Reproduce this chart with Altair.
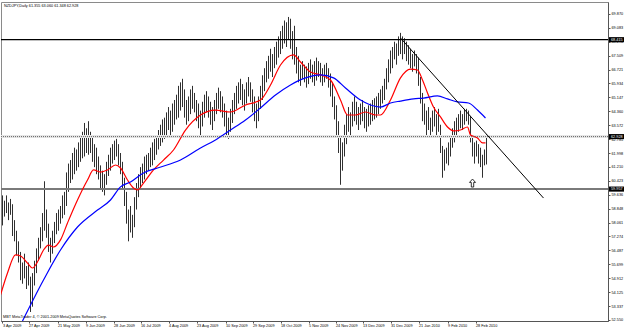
import altair as alt
import pandas as pd

# ---- candle ranges (one per daily bar) ----
hi = [59.6,59.3,59.6,59.2,59.4,59.1,58.2,57.6,57.0,56.4,
      55.8,56.3,55.6,55.8,55.0,55.2,55.9,56.6,57.2,57.8,
      58.6,60.4,58.8,58.0,57.2,57.6,58.1,58.6,58.8,59.0,
      59.6,59.8,60.9,61.4,61.6,62.0,62.3,62.2,62.6,62.9,
      63.2,63.7,63.4,63.8,63.2,62.9,62.5,62.3,61.8,61.3,
      61.0,60.8,61.5,61.9,62.3,62.5,62.7,62.8,62.5,62.0,
      61.5,60.6,59.8,58.8,59.0,58.5,59.5,60.3,60.8,61.2,
      61.4,61.8,61.9,62.0,62.3,62.6,62.8,63.0,63.3,63.6,
      63.9,64.0,64.3,64.6,64.4,64.8,65.0,65.3,65.8,66.0,
      66.2,65.6,65.0,65.2,65.6,65.8,65.4,65.0,64.8,64.4,
      64.9,65.3,65.5,65.2,64.9,64.6,65.0,65.4,65.7,65.5,
      65.2,64.8,64.4,64.0,64.5,65.0,65.4,65.8,66.0,66.2,
      65.9,65.6,66.0,66.3,66.0,65.6,65.2,64.8,65.2,65.8,
      66.4,66.8,67.2,67.5,67.9,67.6,68.0,68.3,68.6,68.9,
      69.2,69.5,69.4,69.7,69.6,68.9,69.2,68.0,67.5,67.0,
      67.2,67.0,66.9,67.1,67.3,67.0,67.2,67.4,67.2,67.1,
      66.8,67.0,67.1,66.8,66.5,66.0,65.2,64.7,63.8,62.9,
      62.6,63.6,64.2,64.6,64.3,64.9,65.2,64.9,64.6,64.8,
      65.0,64.6,64.5,64.7,64.8,65.0,65.1,65.2,65.4,65.6,
      65.8,66.2,66.8,67.3,67.8,68.0,68.3,68.2,68.6,68.8,
      68.6,68.5,68.3,68.1,67.9,67.6,67.8,67.6,67.4,66.3,
      65.4,64.8,64.4,64.6,64.0,64.4,64.6,64.2,64.5,63.6,
      62.4,62.2,62.3,62.6,63.0,63.4,63.8,64.0,64.2,64.4,
      64.2,64.5,64.5,64.4,64.1,63.0,62.6,62.7,62.5,62.3,
      61.9,62.2,63.06]
lo = [57.9,58.4,58.6,58.2,58.5,57.3,57.0,56.2,55.8,54.8,
      54.6,54.9,54.3,54.5,53.0,53.3,54.5,55.2,55.9,56.6,
      57.0,57.6,57.2,56.4,55.8,56.3,56.9,57.4,57.6,58.0,
      58.3,58.5,59.0,59.8,60.3,60.5,60.8,61.0,61.2,61.5,
      61.7,61.8,62.0,61.9,62.0,61.5,61.2,60.8,60.5,60.0,
      59.8,59.6,60.2,60.7,61.0,61.4,61.6,61.8,61.3,60.8,
      60.0,59.0,58.0,57.0,57.5,57.2,57.8,58.8,59.5,60.0,
      60.3,60.5,60.8,61.0,61.2,61.3,61.6,61.9,62.2,62.4,
      62.6,62.8,63.0,63.3,63.0,63.2,63.6,63.9,64.0,64.4,
      64.6,64.0,63.6,63.8,64.2,64.5,64.3,63.8,63.4,63.0,
      63.5,64.0,64.3,64.0,63.6,63.3,63.8,64.2,64.5,64.3,
      64.0,63.5,63.0,62.8,63.2,63.7,64.2,64.5,64.8,65.0,
      64.7,64.4,64.8,65.2,64.9,64.3,63.8,63.4,63.8,64.5,
      65.0,65.5,66.0,66.2,66.6,66.3,66.8,67.0,67.4,67.6,
      67.9,68.2,68.0,68.4,67.9,67.3,67.0,66.5,66.0,65.8,
      66.2,66.0,65.7,65.9,66.2,66.0,65.8,66.1,66.3,66.0,
      65.8,66.0,66.2,65.7,65.2,64.6,63.9,63.0,62.0,60.2,
      61.0,61.8,62.5,63.2,63.0,63.5,63.8,63.6,63.3,63.6,
      63.8,63.4,63.2,63.5,63.6,63.8,63.9,64.0,64.2,64.5,
      64.8,65.0,65.6,66.0,66.5,66.8,67.3,67.0,67.5,67.6,
      67.3,67.6,67.2,67.0,66.8,66.6,66.9,66.5,65.8,64.8,
      63.8,63.6,63.0,63.3,62.9,63.2,63.5,63.0,63.2,62.0,
      60.6,61.0,61.4,61.3,61.8,62.3,62.6,63.0,63.2,63.4,
      63.3,63.6,63.8,63.6,62.6,61.8,61.4,61.8,61.4,61.2,
      60.6,61.3,61.35]

red_idx = [-1,2.5,6.5,9,12.5,15,18,20.5,23,25.5,29,32.5,37.5,42.5,45.5,49,52.5,56.5,59,62.5,
           65.5,67.5,70.5,75.5,80.5,85.5,91.5,99,106.5,114,121.5,129,134,139,145.5,149,154,159,
           164,169,172.5,176.5,181.5,186.5,189,194,199,204,207.5,210,212.5,215.5,219,222.5,
           225.5,229,232.5,234,237.5,240,241.5]
red_val = [53.96,55.21,56.23,56.17,55.77,55.49,55.94,56.51,56.79,56.68,57.08,58.04,59.34,60.47,
           61.04,60.92,61.04,61.32,61.15,60.47,60.02,59.91,60.30,61.04,61.60,62.17,63.30,64.15,
           64.43,64.32,64.72,65.00,65.85,66.98,67.55,67.15,66.58,66.42,66.13,65.00,64.15,64.15,
           64.32,64.15,64.15,65.00,66.25,66.75,66.70,66.13,65.40,64.60,64.04,63.47,63.25,63.30,
           63.47,63.02,62.85,62.57,62.57]
blue_idx = [10,20.5,29,37.5,47.5,54,59,64,70.5,77.5,89,99,106.5,114,121.5,129,136.5,144,151.5,
            159,165.5,171.5,179,184,189,194,199,205.5,210.5,217.5,222.5,227.5,233,237.5,241.5]
blue_val = [52.49,54.81,56.51,57.81,58.77,59.34,60.08,60.36,60.87,61.15,61.60,62.28,62.74,63.30,
            63.87,64.55,65.28,65.85,66.25,66.42,66.25,65.68,65.00,64.72,64.60,64.83,64.94,65.06,
            65.11,65.23,65.06,64.89,64.83,64.43,63.98]

# ---- drawn objects ----
trend_idx = [199, 270.5]
trend_val = [68.51, 59.45]
level_top = 68.415
level_bid = 62.928
level_low = 59.957
arrow_idx = [235]
arrow_val = [60.30]

# ---- axis labels ----
date_labels = ["3 Apr 2009","27 Apr 2009","21 May 2009","9 Jun 2009","28 Jun 2009","16 Jul 2009",
               "4 Aug 2009","23 Aug 2009","10 Sep 2009","29 Sep 2009","18 Oct 2009","5 Nov 2009",
               "24 Nov 2009","13 Dec 2009","31 Dec 2009","21 Jan 2010","9 Feb 2010","28 Feb 2010"]
date_pos = [0,13,27.5,41.5,55.5,69,83,97,111.5,125,139,153,166.5,180,194,208,222.5,236.5]
y_ticks = [52.550,53.337,54.125,54.912,55.699,56.487,57.274,58.061,58.848,59.636,60.423,61.210,
           61.998,62.785,63.572,64.360,65.147,65.934,66.721,67.509,68.296,69.083,69.870]

title_text = "NZDJPY,Daily  61.355 63.060 61.348 62.928"
copy_text = "MBT MetaTrader 4, \u00a9 2001-2009 MetaQuotes Software Corp."

W, H = 607, 319
FONT = "Liberation Sans"
FS = 3.8

xs = alt.Scale(domain=[-0.75, 302.75], nice=False, zero=False)
ys = alt.Scale(domain=[52.49, 70.547], nice=False, zero=False)

n = min(len(hi), len(lo))
candles = pd.DataFrame({"i": list(range(n)), "hi": hi[:n], "lo": lo[:n]})

label_expr = "".join(f"abs(datum.value-{p})<0.01?'{t}':" for p, t in zip(date_pos, date_labels)) + "''"

xaxis = alt.Axis(values=date_pos, labelExpr=label_expr, labelAlign="left", labelFontSize=FS,
                 labelFont=FONT, labelColor="#000", tickSize=2, tickColor="#555", domainColor="#555",
                 labelPadding=0.5, title=None, grid=False, labelOverlap=False, labelFlush=False)
yaxis = alt.Axis(orient="right", values=y_ticks, format=".3f", labelFontSize=FS, labelFont=FONT,
                 labelColor="#000", tickSize=2, tickColor="#555", domainColor="#555",
                 labelPadding=1, title=None, grid=False, labelOverlap=False, labelFlush=False)

def X(field):
    return alt.X(field, type="quantitative", scale=xs, axis=xaxis)

def Y(field):
    return alt.Y(field, type="quantitative", scale=ys, axis=yaxis)

candle_layer = alt.Chart(candles).mark_rule(color="#303030", strokeWidth=1).encode(
    x=X("i"), y=Y("lo"), y2="hi")

red_df = pd.DataFrame({"i": red_idx, "v": red_val})
blue_df = pd.DataFrame({"i": blue_idx, "v": blue_val})
trend_df = pd.DataFrame({"i": trend_idx, "v": trend_val})

def line(df, color, width):
    return alt.Chart(df).mark_line(color=color, strokeWidth=width, clip=True, interpolate="monotone").encode(
        x=X("i"), y=Y("v"))

red_layer = line(red_df, "#ff0000", 1.2)
blue_layer = line(blue_df, "#0000ff", 1.2)
trend_layer = alt.Chart(trend_df).mark_line(color="#000", strokeWidth=1).encode(x=X("i"), y=Y("v"))

def hline(value, color, width, dash=None):
    kw = dict(color=color, strokeWidth=width)
    if dash:
        kw["strokeDash"] = dash
    return alt.Chart(pd.DataFrame({"v": [value]})).mark_rule(**kw).encode(
        y=Y("v"), x=alt.value(0), x2=alt.value(W))

top_line = hline(level_top, "#000", 1.3)
bid_band = hline(level_bid, "#e6e6e6", 3)
bid_line = hline(level_bid, "#666", 1, [1, 1])
low_line = hline(level_low, "#7a7a7a", 2)

levels = pd.DataFrame({"v": [level_top, level_bid, level_low],
                       "t": [f"{level_top:.3f}", f"{level_bid:.3f}", f"{level_low:.3f}"]})
box_layer = alt.Chart(levels).mark_point(
    shape="M-1,-0.34L1,-0.34L1,0.34L-1,0.34Z", size=225, filled=True, fill="#000",
    opacity=1, clip=False).encode(y=Y("v"), x=alt.value(W + 8.5))
box_text = alt.Chart(levels).mark_text(align="left", baseline="middle", font=FONT, fontSize=FS,
                                        color="#fff", clip=False).encode(
    y=Y("v"), x=alt.value(W + 3), text="t:N")

arrow_df = pd.DataFrame({"i": arrow_idx, "v": arrow_val})
arrow_layer = alt.Chart(arrow_df).mark_point(
    shape="M0,-1L0.75,-0.15L0.3,-0.15L0.3,1L-0.3,1L-0.3,-0.15L-0.75,-0.15Z",
    size=64, filled=False, stroke="#000", strokeWidth=0.8, fill="#fff", opacity=1).encode(
    x=X("i"), y=Y("v"))

title_layer = alt.Chart(pd.DataFrame({"t": [title_text]})).mark_text(
    align="left", baseline="middle", font=FONT, fontSize=FS, color="#000").encode(
    x=alt.value(3), y=alt.value(4), text="t:N")
copy_layer = alt.Chart(pd.DataFrame({"t": [copy_text]})).mark_text(
    align="left", baseline="middle", font=FONT, fontSize=FS, color="#000").encode(
    x=alt.value(2), y=alt.value(H - 4), text="t:N")

chart = alt.layer(
    candle_layer, bid_band, low_line, red_layer, blue_layer, top_line, bid_line, trend_layer,
    arrow_layer, box_layer, box_text, title_layer, copy_layer
).properties(
    width=W, height=H,
    autosize=alt.AutoSizeParams(type="none"),
    padding={"left": 1, "top": 2, "right": 17, "bottom": 8},
    background="#ffffff",
).configure_view(stroke="#8a8a8a", strokeWidth=1)

chart.save("out.html", embed_options={"renderer": "svg", "actions": False})
